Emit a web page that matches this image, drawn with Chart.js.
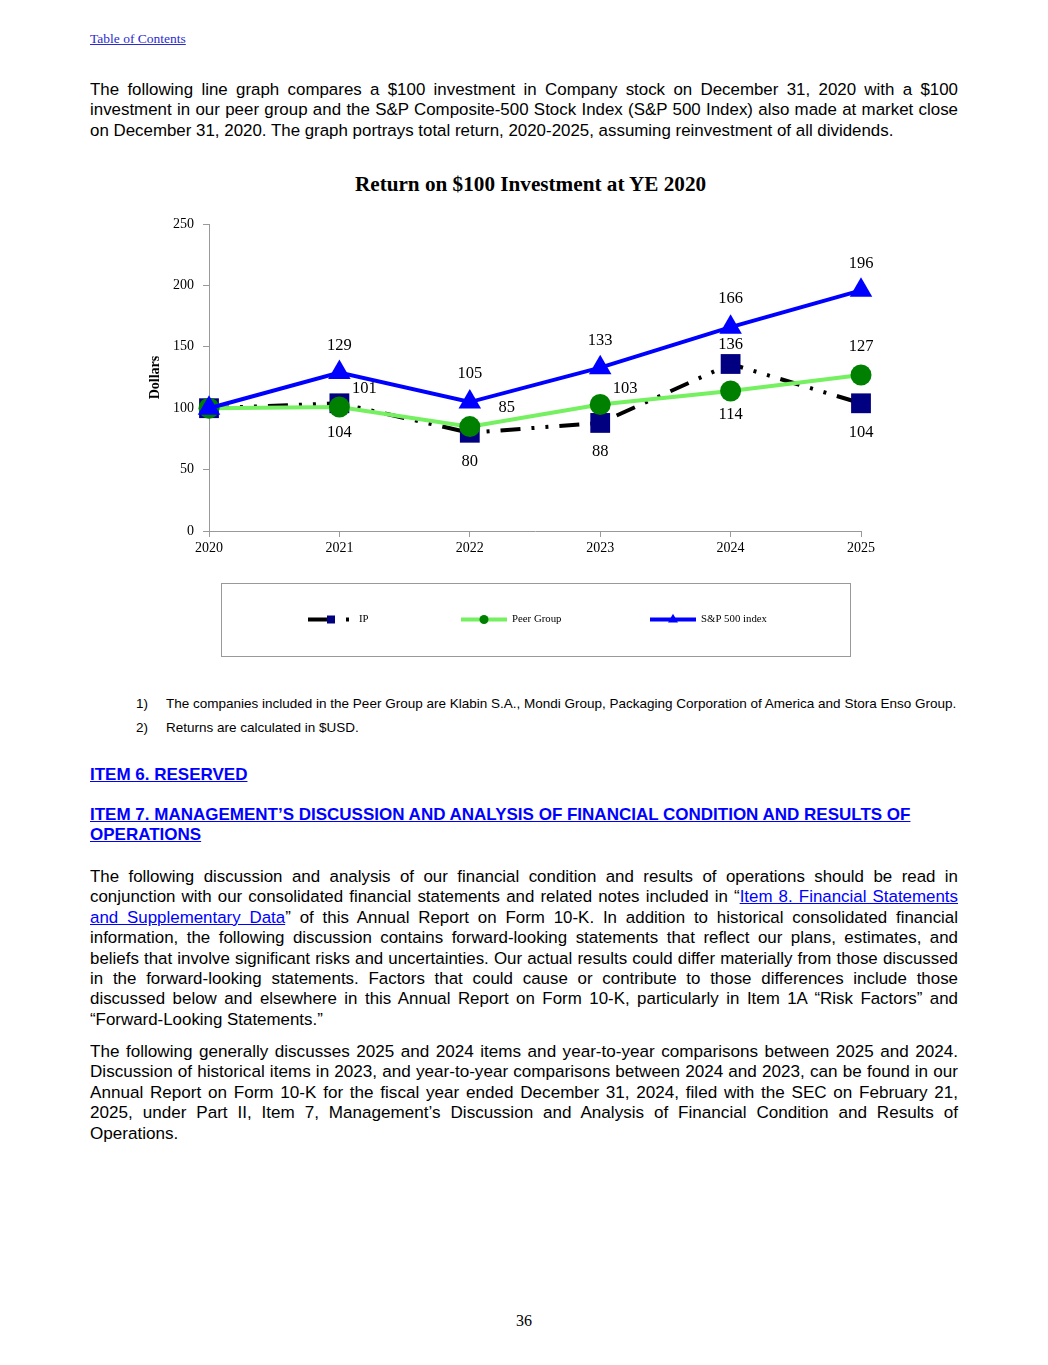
<!DOCTYPE html>
<html>
<head>
<meta charset="utf-8">
<script src="https://cdn.jsdelivr.net/npm/chart.js@4.4.1/dist/chart.umd.min.js"></script>
<style>
  body { margin: 0; background: #fff; width: 1048px; height: 1365px; position: relative; font-family: "Liberation Sans", Arial, sans-serif; color: #000; }
  .toc { position: absolute; left: 90px; top: 31px; font-family: "Liberation Serif", "Times New Roman", serif; font-size: 13.5px; color: #2b2bd0; }
  .blk { position: absolute; left: 90px; width: 868px; font-size: 16.9px; line-height: 20.4px; text-align: justify; }
  .note { position: absolute; left: 136px; font-size: 13.5px; line-height: 16px; }
  .note span { display: inline-block; width: 30px; }
  .head { position: absolute; left: 90px; font-size: 17px; line-height: 20px; font-weight: bold; color: #0000ff; text-decoration: underline; }
  a { color: #0000ff; }
  .title { position: absolute; left: 0; width: 1061px; top: 170px; text-align: center; font-family: "Liberation Serif", "Times New Roman", serif; font-weight: bold; font-size: 21.2px; line-height: 28px; }
  #wrap { position: absolute; left: 130px; top: 160px; width: 780px; height: 510px; }
  .pnum { position: absolute; left: 0; width: 1048px; top: 1312px; text-align: center; font-family: "Liberation Serif", "Times New Roman", serif; font-size: 16px; }
</style>
</head>
<body>
<div class="toc"><u>Table of Contents</u></div>

<div class="blk" style="top:80px">The following line graph compares a $100 investment in Company stock on December 31, 2020 with a $100 investment in our peer group and the S&amp;P Composite-500 Stock Index (S&amp;P 500 Index) also made at market close on December 31, 2020. The graph portrays total return, 2020-2025, assuming reinvestment of all dividends.</div>

<div class="title">Return on $100 Investment at YE 2020</div>
<div id="wrap"><canvas id="chart"></canvas></div>

<div class="note" style="top:696px"><span>1)</span>The companies included in the Peer Group are Klabin S.A., Mondi Group, Packaging Corporation of America and Stora Enso Group.</div>
<div class="note" style="top:720px"><span>2)</span>Returns are calculated in $USD.</div>

<div class="head" style="top:765px">ITEM 6. RESERVED</div>
<div class="head" style="top:805px">ITEM 7. MANAGEMENT’S DISCUSSION AND ANALYSIS OF FINANCIAL CONDITION AND RESULTS OF <br>OPERATIONS</div>

<div class="blk" style="top:867px">The following discussion and analysis of our financial condition and results of operations should be read in conjunction with our consolidated financial statements and related notes included in “<a href="#">Item 8. Financial Statements and Supplementary Data</a>” of this Annual Report on Form 10-K. In addition to historical consolidated financial information, the following discussion contains forward-looking statements that reflect our plans, estimates, and beliefs that involve significant risks and uncertainties. Our actual results could differ materially from those discussed in the forward-looking statements. Factors that could cause or contribute to those differences include those discussed below and elsewhere in this Annual Report on Form 10-K, particularly in Item 1A “Risk Factors” and “Forward-Looking Statements.”</div>

<div class="blk" style="top:1042px; font-size:17.1px">The following generally discusses 2025 and 2024 items and year-to-year comparisons between 2025 and 2024. Discussion of historical items in 2023, and year-to-year comparisons between 2024 and 2023, can be found in our Annual Report on Form 10-K for the fiscal year ended December 31, 2024, filed with the SEC on February 21, 2025, under Part II, Item 7, Management’s Discussion and Analysis of Financial Condition and Results of Operations.</div>

<div class="pnum">36</div>

<script>
// data
const years = ["2020", "2021", "2022", "2023", "2024", "2025"];
const ipValues = [100, 104, 80, 88, 136, 104];
const peerValues = [100, 101, 85, 103, 114, 127];
const spValues = [100, 129, 105, 133, 166, 196];
const yTicks = [0, 50, 100, 150, 200, 250];

const serif = "'Liberation Serif', 'Times New Roman', serif";

// where each value label sits relative to its point [dx, dy]
const labelOffsets = [
  [null, [0, 29], [0, 29], [0, 29], [0, -19], [0, 29]],
  [null, [25, -18], [37, -19], [25, -16], [0, 24], [0, -28]],
  [null, [0, -27], [0, -28], [0, -27], [0, -28], [0, -27]]
];

// value labels next to the points (not for 2020)
const valueLabels = {
  id: "valueLabels",
  afterDatasetsDraw(chart) {
    const ctx = chart.ctx;
    ctx.save();
    ctx.font = "16.5px " + serif;
    ctx.fillStyle = "#000";
    ctx.textAlign = "center";
    ctx.textBaseline = "middle";
    chart.data.datasets.forEach((ds, i) => {
      chart.getDatasetMeta(i).data.forEach((pt, j) => {
        const off = labelOffsets[i][j];
        if (!off) return;
        ctx.fillText(String(ds.data[j]), pt.x + off[0], pt.y + off[1]);
      });
    });
    ctx.restore();
  }
};

function marker(ctx, style, x, y, r) {
  ctx.beginPath();
  if (style === "rect") {
    ctx.rect(x - r, y - r, 2 * r, 2 * r);
  } else if (style === "triangle") {
    ctx.moveTo(x, y - r * 1.15);
    ctx.lineTo(x + r, y + r * 0.6);
    ctx.lineTo(x - r, y + r * 0.6);
    ctx.closePath();
  } else {
    ctx.arc(x, y, r, 0, Math.PI * 2);
  }
  ctx.fill();
}

// boxed legend under the plot
const legendBox = {
  id: "legendBox",
  afterDraw(chart, args, opts) {
    const ctx = chart.ctx;
    ctx.save();
    ctx.strokeStyle = "#999";
    ctx.lineWidth = 1;
    ctx.strokeRect(opts.x + 0.5, opts.y + 0.5, opts.w, opts.h);
    const y = opts.y + opts.h / 2;
    chart.data.datasets.forEach((ds, i) => {
      const x0 = opts.itemX[i];
      ctx.strokeStyle = ds.borderColor;
      ctx.lineWidth = 4;
      ctx.setLineDash(opts.dash[i]);
      ctx.beginPath();
      ctx.moveTo(x0, y);
      ctx.lineTo(x0 + opts.lineLen, y);
      ctx.stroke();
      ctx.setLineDash([]);
      ctx.fillStyle = ds.pointBackgroundColor;
      marker(ctx, ds.pointStyle, x0 + opts.lineLen / 2, y, opts.markerR[i]);
      ctx.fillStyle = "#000";
      ctx.font = "10.8px " + serif;
      ctx.textAlign = "left";
      ctx.textBaseline = "middle";
      ctx.fillText(ds.label, x0 + opts.lineLen + 5, y);
    });
    ctx.restore();
  }
};

new Chart(document.getElementById("chart"), {
  type: "line",
  data: {
    labels: years,
    datasets: [
      {
        label: "IP",
        data: ipValues,
        borderColor: "#000",
        borderWidth: 4,
        borderDash: [20, 11, 3, 11, 3, 11],
        pointStyle: "rect",
        pointRadius: 14,
        pointBackgroundColor: "#000080",
        pointBorderWidth: 0,
        clip: false,
        order: 3
      },
      {
        label: "Peer Group",
        data: peerValues,
        borderColor: "#74f060",
        borderWidth: 4,
        pointStyle: "circle",
        pointRadius: 10.5,
        pointBackgroundColor: "#008000",
        pointBorderWidth: 0,
        clip: false,
        order: 2
      },
      {
        label: "S&P 500 index",
        data: spValues,
        borderColor: "#0000ff",
        borderWidth: 4,
        pointStyle: "triangle",
        pointRadius: 13,
        pointBackgroundColor: "#0000ff",
        pointBorderWidth: 0,
        clip: false,
        order: 1
      }
    ]
  },
  options: {
    responsive: true,
    maintainAspectRatio: false,
    animation: false,
    layout: { padding: { left: 0, right: 49, top: 64, bottom: 109 } },
    plugins: {
      legend: { display: false },
      tooltip: { enabled: false },
      title: { display: false },
      legendBox: {
        x: 91, y: 423, w: 629, h: 73,
        itemX: [178, 331, 520],
        lineLen: 46,
        dash: [[24, 14, 3, 30], [], []],
        markerR: [4, 4.5, 5]
      }
    },
    scales: {
      x: {
        offset: false,
        grid: { display: true, drawOnChartArea: false, drawTicks: true, tickLength: 6, color: "#999" },
        border: { display: true, color: "#999" },
        ticks: { color: "#000", padding: 3, font: { family: serif, size: 14 } },
        afterFit(s) { s.height = 30; }
      },
      y: {
        min: 0,
        max: 250,
        afterBuildTicks(s) { s.ticks = yTicks.map(v => ({ value: v })); },
        grid: { display: true, drawOnChartArea: false, drawTicks: true, tickLength: 6, color: "#999" },
        border: { display: true, color: "#999" },
        ticks: { color: "#000", padding: 9, font: { family: serif, size: 14 } },
        title: {
          display: true,
          text: "Dollars",
          color: "#000",
          font: { family: serif, size: 14, weight: "bold" },
          padding: { top: 17, bottom: 0 }
        },
        afterFit(s) { s.width = 79; }
      }
    }
  },
  plugins: [valueLabels, legendBox]
});
</script>
</body>
</html>
